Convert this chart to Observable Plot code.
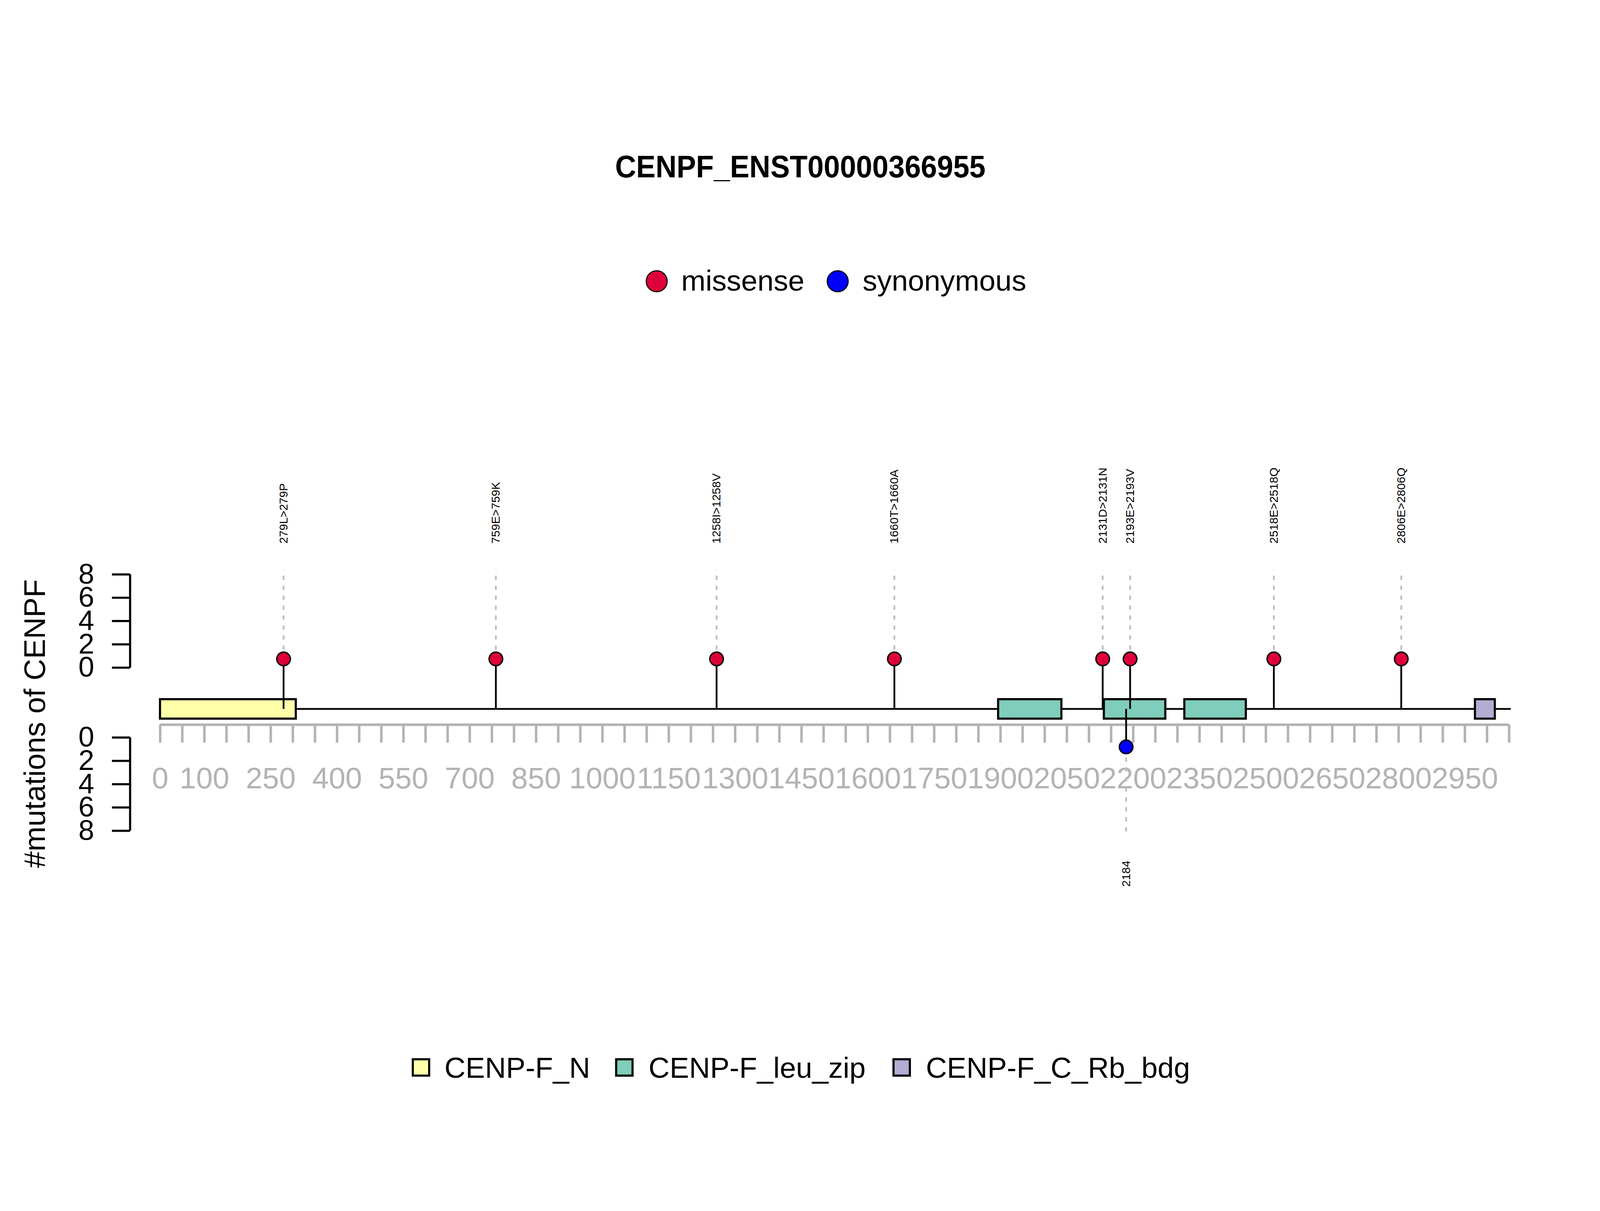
<!DOCTYPE html>
<html>
<head>
<meta charset="utf-8">
<script src="https://cdn.jsdelivr.net/npm/d3@7"></script>
<script src="https://cdn.jsdelivr.net/npm/@observablehq/plot@0.6"></script>
<style>
  html, body { margin: 0; background: #fff; font-family: "Liberation Sans", Arial, sans-serif; overflow: hidden; }
  #page { position: relative; width: 4500px; height: 3100px; overflow: hidden; transform-origin: 0 0; }
  #chart { position: absolute; left: 0; top: 0; }
  .abs { position: absolute; white-space: nowrap; line-height: 1; }
  #title { left: 2251px; top: 425px; font-size: 88px; font-weight: bold; transform: translateX(-50%) scaleX(0.93); }
  .dot { width: 62px; height: 62px; border-radius: 50%; border: 3px solid #000; box-sizing: border-box; }
  .sq { width: 52px; height: 52px; border: 6px solid #000; box-sizing: border-box; }
  .lt { font-size: 82px; }
</style>
</head>
<body>
<div id="page">
  <div id="chart"></div>
  <div id="title" class="abs">CENPF_ENST00000366955</div>
  <div class="abs dot" style="left:1816px;top:760px;background:#DE003A"></div>
  <div class="abs lt" style="left:1916px;top:748px">missense</div>
  <div class="abs dot" style="left:2325px;top:760px;background:#0000FF"></div>
  <div class="abs lt" style="left:2426px;top:748px">synonymous</div>
  <div class="abs sq" style="left:1158px;top:2976px;background:#FFFFAA"></div>
  <div class="abs lt" style="left:1250px;top:2962px">CENP-F_N</div>
  <div class="abs sq" style="left:1730px;top:2976px;background:#7FCDBB"></div>
  <div class="abs lt" style="left:1824px;top:2962px">CENP-F_leu_zip</div>
  <div class="abs sq" style="left:2510px;top:2976px;background:#B1ADD3"></div>
  <div class="abs lt" style="left:2604px;top:2962px">CENP-F_C_Rb_bdg</div>
</div>
<script>
const PROTEIN_LEN = 3054;
const DOMAIN_NAMES = ["CENP-F_N", "CENP-F_leu_zip", "CENP-F_leu_zip", "CENP-F_leu_zip", "CENP-F_C_Rb_bdg"];
const DOMAIN_START = [0, 1895, 2134, 2316, 2973];
const DOMAIN_END = [307, 2038, 2273, 2455, 3018];
const MISSENSE_POS = [279, 759, 1258, 1660, 2131, 2193, 2518, 2806];
const MISSENSE_LABEL = ["279L>279P", "759E>759K", "1258I>1258V", "1660T>1660A", "2131D>2131N", "2193E>2193V", "2518E>2518Q", "2806E>2806Q"];
const MISSENSE_HEIGHT = [0.75, 0.75, 0.75, 0.75, 0.75, 0.75, 0.75, 0.75];
const SYN_POS = [2184];
const SYN_LABEL = ["2184"];
const SYN_HEIGHT = [0.8];
const X_TICKS = d3.range(0, 3051, 50);
const X_LABELS = [0, 100, 250, 400, 550, 700, 850, 1000, 1150, 1300, 1450, 1600, 1750, 1900, 2050, 2200, 2350, 2500, 2650, 2800, 2950];
const Y_TICKS = [0, 2, 4, 6, 8];

const DOMAIN_COLOR = { "CENP-F_N": "#FFFFAA", "CENP-F_leu_zip": "#7FCDBB", "CENP-F_C_Rb_bdg": "#B1ADD3" };

const domains = DOMAIN_NAMES.map((name, i) => ({ name, start: DOMAIN_START[i], end: DOMAIN_END[i] }));
const missense = MISSENSE_POS.map((pos, i) => ({ pos, label: MISSENSE_LABEL[i], h: MISSENSE_HEIGHT[i] }));
// lower track is mirrored below the backbone, offset by 6 units
const LOWER0 = -6;
const synonymous = SYN_POS.map((pos, i) => ({ pos, label: SYN_LABEL[i], h: LOWER0 - SYN_HEIGHT[i] }));

const BACKBONE = -3.54;
const AXIS_Y = -4.9;
const YAXIS_X = -68;
const GRAY = "#b3b3b3";

const plot = Plot.plot({
  width: 4500,
  height: 3100,
  x: { domain: [0, 3050], range: [450, 4244], axis: null },
  y: { domain: [8, -14], range: [1615, 2336], axis: null },
  style: { fontFamily: '"Liberation Sans", Arial, sans-serif', background: "transparent" },
  marks: [
    // gray position axis
    Plot.ruleY([AXIS_Y], { x1: 0, x2: 3050, stroke: GRAY, strokeWidth: 7 }),
    Plot.ruleX(X_TICKS, { x: d => d, y1: AXIS_Y, y2: -6.45, stroke: GRAY, strokeWidth: 7 }),
    Plot.text(X_LABELS, { x: d => d, y: -9.54, text: d => String(d), fill: GRAY, fontSize: 84 }),
    // count axes
    Plot.ruleX([YAXIS_X], { y1: 0, y2: 8, stroke: "#000", strokeWidth: 6 }),
    Plot.link(Y_TICKS, { x1: YAXIS_X, x2: -109, y1: d => d, y2: d => d, stroke: "#000", strokeWidth: 6 }),
    Plot.text(Y_TICKS, { x: -167, y: d => d, text: d => String(d), fontSize: 80, fill: "#000" }),
    Plot.ruleX([YAXIS_X], { y1: LOWER0, y2: LOWER0 - 8, stroke: "#000", strokeWidth: 6 }),
    Plot.link(Y_TICKS, { x1: YAXIS_X, x2: -109, y1: d => LOWER0 - d, y2: d => LOWER0 - d, stroke: "#000", strokeWidth: 6 }),
    Plot.text(Y_TICKS, { x: -167, y: d => LOWER0 - d, text: d => String(d), fontSize: 80, fill: "#000" }),
    Plot.text(["#mutations of CENPF"], { x: -282, y: -4.8, rotate: -90, fontSize: 84, fill: "#000" }),
    // backbone + domains
    Plot.ruleY([BACKBONE], { x1: 0, x2: PROTEIN_LEN, stroke: "#000", strokeWidth: 5 }),
    Plot.rect(domains, { x1: "start", x2: "end", y1: -2.72, y2: -4.39, fill: d => DOMAIN_COLOR[d.name], stroke: "#000", strokeWidth: 6 }),
    // missense lollipops
    Plot.link(missense, { x1: "pos", x2: "pos", y1: BACKBONE, y2: "h", stroke: "#000", strokeWidth: 5 }),
    Plot.link(missense, { x1: "pos", x2: "pos", y1: d => d.h + 0.8, y2: 8.4, stroke: "#bdbdbd", strokeWidth: 5, strokeDasharray: "12 16" }),
    Plot.dot(missense, { x: "pos", y: "h", r: 19, fill: "#DE003A", stroke: "#000", strokeWidth: 4 }),
    Plot.text(missense, { x: "pos", y: 10.65, text: "label", rotate: -90, textAnchor: "start", fontSize: 33, fill: "#000" }),
    // synonymous lollipops (below)
    Plot.link(synonymous, { x1: "pos", x2: "pos", y1: BACKBONE, y2: "h", stroke: "#000", strokeWidth: 5 }),
    Plot.link(synonymous, { x1: "pos", x2: "pos", y1: d => d.h - 0.9, y2: -14.4, stroke: "#bdbdbd", strokeWidth: 5, strokeDasharray: "12 16" }),
    Plot.dot(synonymous, { x: "pos", y: "h", r: 19, fill: "#0000FF", stroke: "#000", strokeWidth: 4 }),
    Plot.text(synonymous, { x: "pos", y: -18.8, text: "label", rotate: -90, textAnchor: "start", fontSize: 33, fill: "#000" })
  ]
});
document.getElementById("chart").append(plot);

// fit the 4500-wide page into whatever viewport the browser actually has
function fit() {
  const s = Math.min(window.innerWidth / 4500, window.innerHeight / 3100);
  document.getElementById("page").style.transform = `scale(${s})`;
}
fit();
window.addEventListener("resize", fit);
</script>
</body>
</html>
